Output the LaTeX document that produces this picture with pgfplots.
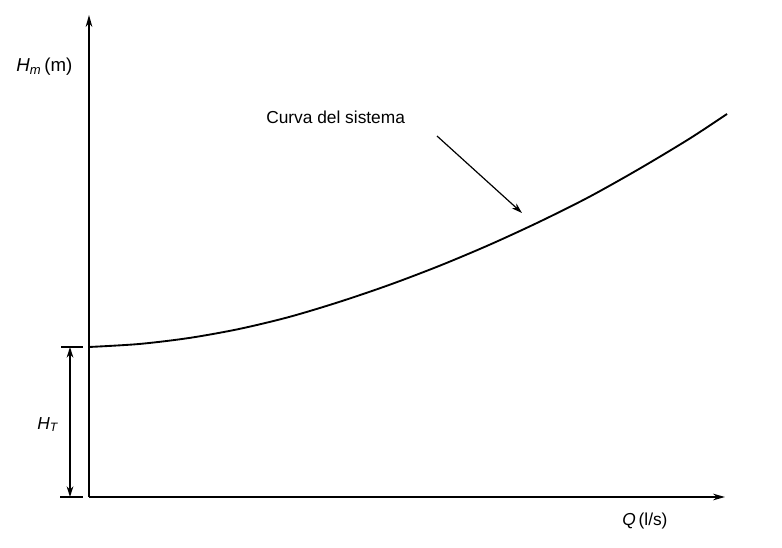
\documentclass[border=0pt]{standalone}
\usepackage{fontspec}
\setmainfont{Liberation Sans}
\usepackage{pgfplots}
\pgfplotsset{compat=1.18}
\usetikzlibrary{arrows.meta}
\begin{document}
\begin{tikzpicture}
\begin{axis}[
  width=586.5pt, height=410.25pt, scale only axis,
  xmin=-89, xmax=693, ymin=-50, ymax=497,
  hide axis, clip=false,
]
\path (axis cs:-89,-50) rectangle (axis cs:693,497);
% axes
\draw[line width=1.3pt, -{Stealth[length=9pt,width=5pt]}] (axis cs:0,0) -- (axis cs:0,482);
\draw[line width=1.3pt, -{Stealth[length=9pt,width=5pt]}] (axis cs:0,0) -- (axis cs:636,0);
% system curve
\addplot[black, line width=1.4pt, smooth] coordinates {
  (0,150) (50,153) (100,159) (150,168) (200,180) (250,195) (300,212)
  (350,231) (400,252) (450,275) (500,300) (550,328) (600,358) (638,383)
};
% static head marker
\draw[line width=1.2pt] (axis cs:-28,150) -- (axis cs:-6,150);
\draw[line width=1.2pt] (axis cs:-29,0) -- (axis cs:-6,0);
\draw[line width=1.2pt, {Stealth[length=8pt,width=5pt]}-{Stealth[length=8pt,width=5pt]}] (axis cs:-19,150) -- (axis cs:-19,0);
% annotation
\draw[line width=0.9pt, -{Stealth[length=8pt,width=5pt]}] (axis cs:348,361) -- (axis cs:433,284);
\node[anchor=base west, inner sep=0pt, font=\fontsize{13}{15}\selectfont] at (axis cs:177,373) {Curva del sistema};
\node[anchor=base west, inner sep=0pt, font=\fontsize{14}{16}\selectfont] at (axis cs:-73,425) {\textit{H}\textsubscript{\textit{m}}\,(m)};
\node[anchor=base west, inner sep=0pt, font=\fontsize{13}{15}\selectfont] at (axis cs:-52,68) {\textit{H}\textsubscript{\textit{T}}};
\node[anchor=base west, inner sep=0pt, font=\fontsize{13}{15}\selectfont] at (axis cs:533,-28) {\textit{Q}\,(l/s)};
\end{axis}
\end{tikzpicture}
\end{document}
